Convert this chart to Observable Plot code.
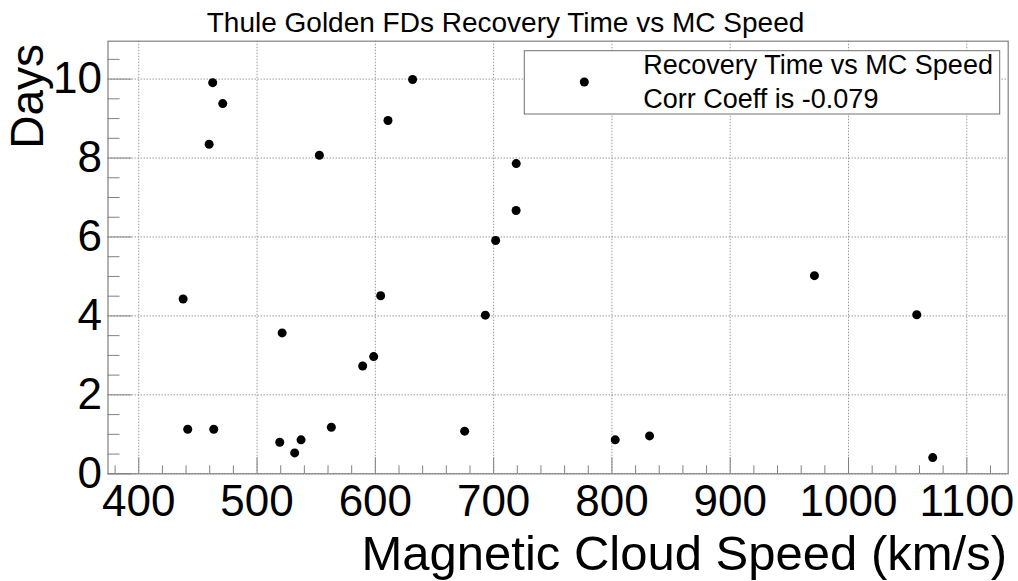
<!DOCTYPE html>
<html>
<head>
<meta charset="utf-8">
<script src="https://cdn.jsdelivr.net/npm/d3@7"></script>
<script src="https://cdn.jsdelivr.net/npm/@observablehq/plot@0.6"></script>
<style>
  html, body { margin: 0; padding: 0; background: #fff; }
  #chart { width: 1018px; height: 581px; }
</style>
</head>
<body>
<div id="chart"></div>
<script>
// Magnetic cloud speed (km/s) and recovery time (days)
const speed = [462.5, 471, 459.5, 552.7, 610.7, 631.5, 719.1, 719, 701.7, 971.2,
               437.5, 604.5, 693, 521.2, 598.6, 589.3, 441.4, 463.4, 562.8, 675.5,
               519.2, 537.2, 531.8, 1057.7, 802.8, 831.8, 1071.2];
const days  = [9.91, 9.38, 8.35, 8.07, 8.95, 9.99, 7.86, 6.67, 5.91, 5.02,
               4.43, 4.51, 4.02, 3.57, 2.97, 2.73, 1.13, 1.13, 1.18, 1.08,
               0.80, 0.86, 0.53, 4.03, 0.86, 0.96, 0.41];
const xMajor = [400, 500, 600, 700, 800, 900, 1000, 1100];
const xMinor = [380, 420, 440, 460, 480, 520, 540, 560, 580, 620, 640, 660, 680,
                720, 740, 760, 780, 820, 840, 860, 880, 920, 940, 960, 980,
                1020, 1040, 1060, 1080, 1120];
const yMajor = [0, 2, 4, 6, 8, 10];
const yMinor = [0.5, 1, 1.5, 2.5, 3, 3.5, 4.5, 5, 5.5, 6.5, 7, 7.5, 8.5, 9, 9.5, 10.5];
const titleText = "Thule Golden FDs Recovery Time vs MC Speed";
const xTitle = "Magnetic Cloud Speed (km/s)";
const yTitle = "Days";
const legendLines = ["Recovery Time vs MC Speed", "Corr Coeff is -0.079"];

const data = speed.map((s, i) => ({speed: s, days: days[i]}));

const W = 1018, H = 581;
const mL = 107.5, mT = 40.7, mR = 10.3, mB = 107.7;
const pw = W - mL - mR, ph = H - mT - mB;
const font = "'Liberation Sans', Arial, Helvetica, sans-serif";
const axisColor = "#808080";

const plot = Plot.plot({
  width: W, height: H,
  marginLeft: mL, marginTop: mT, marginRight: mR, marginBottom: mB,
  style: {fontFamily: font, background: "#fff", color: "#000"},
  x: {domain: [374, 1135]},
  y: {domain: [0, 10.96]},
  marks: [
    Plot.gridX(xMajor, {stroke: "#9a9a9a", strokeOpacity: 1, strokeDasharray: "1.5,1.5"}),
    Plot.gridY(yMajor, {stroke: "#9a9a9a", strokeOpacity: 1, strokeDasharray: "1.5,1.5"}),
    Plot.tickX(xMajor, {x: d => d, stroke: axisColor, insetTop: ph - 16}),
    Plot.tickX(xMinor, {x: d => d, stroke: axisColor, insetTop: ph - 8}),
    Plot.tickY(yMajor, {y: d => d, stroke: axisColor, insetRight: pw - 24}),
    Plot.tickY(yMinor, {y: d => d, stroke: axisColor, insetRight: pw - 12}),
    Plot.frame({stroke: axisColor, strokeWidth: 1.2}),
    Plot.axisX({ticks: xMajor, tickSize: 0, tickPadding: 11, fontSize: 44, tickFormat: d => String(d), label: null}),
    Plot.axisY({ticks: yMajor, tickSize: 0, tickPadding: 6, fontSize: 44, tickFormat: d => String(d), label: null}),
    Plot.dot(data, {x: "speed", y: "days", r: 4.5, fill: "#000", stroke: "none"})
  ]
});

const svg = d3.select(plot);
svg.append("text")
  .attr("x", 505.5).attr("y", 31.5)
  .attr("text-anchor", "middle")
  .attr("font-size", 28).attr("font-family", font).attr("fill", "#000")
  .text(titleText);
svg.append("text")
  .attr("x", 1007).attr("y", 570)
  .attr("text-anchor", "end")
  .attr("font-size", 49).attr("font-family", font).attr("fill", "#000")
  .text(xTitle);
svg.append("text")
  .attr("transform", "translate(43,44) rotate(-90)")
  .attr("text-anchor", "end")
  .attr("font-size", 46).attr("font-family", font).attr("fill", "#000")
  .text(yTitle);
const lg = svg.append("g");
lg.append("rect")
  .attr("x", 524.3).attr("y", 50.7).attr("width", 475.4).attr("height", 63.3)
  .attr("fill", "#fff").attr("stroke", "#707070").attr("stroke-width", 1);
lg.append("circle").attr("cx", 584.3).attr("cy", 82).attr("r", 4.5).attr("fill", "#000");
legendLines.forEach((t, i) => {
  lg.append("text")
    .attr("x", 643.3).attr("y", 74 + i * 34.3)
    .attr("text-anchor", "start")
    .attr("font-size", 27).attr("font-family", font).attr("fill", "#000")
    .text(t);
});

document.getElementById("chart").appendChild(plot);
</script>
</body>
</html>
